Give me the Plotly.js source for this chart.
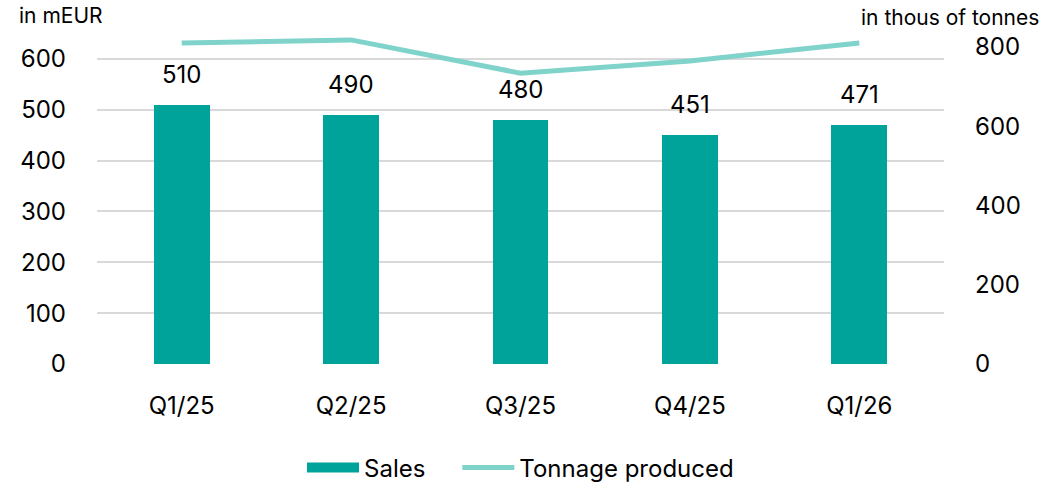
<!DOCTYPE html>
<html>
<head>
<meta charset="utf-8">
<script src="https://cdn.plot.ly/plotly-3.0.1.min.js"></script>
<style>
  html, body { margin: 0; padding: 0; background: #fff; }
  #chart { width: 1045px; height: 486px; }
</style>
</head>
<body>
<div id="chart"></div>
<script>
// quarters and values
const quarters = ["Q1/25", "Q2/25", "Q3/25", "Q4/25", "Q1/26"];
const sales = [510, 490, 480, 451, 471];          // mEUR
const tonnage = [810, 818, 734, 765, 810];         // thous of tonnes

const teal = "#00A39A";
const lightTeal = "#7FD3CB";
const fontFam = "Inter, 'Open Sans', sans-serif";

const barTrace = {
  type: "bar",
  name: "Sales",
  x: quarters,
  y: sales,
  marker: { color: teal },
  width: 0.33,
  hoverinfo: "x+y",
  showlegend: false,
  legendgroup: "sales",
};

// legend entry only (no data drawn): a thick line gives the wide rectangular swatch
// trailing non-breaking spaces widen the gap to the next legend item
const salesKey = {
  type: "scatter",
  mode: "lines",
  name: "Sales\u00a0\u00a0\u00a0\u00a0",
  x: [quarters[0]],
  y: [null],
  line: { color: teal, width: 22 },
  legendgroup: "sales",
  showlegend: true,
  hoverinfo: "skip",
};

const lineTrace = {
  type: "scatter",
  mode: "lines",
  name: "Tonnage produced",
  x: quarters,
  y: tonnage,
  yaxis: "y2",
  line: { color: lightTeal, width: 5 },
  cliponaxis: false,
};

// value labels above the bars
const labels = quarters.map((q, i) => ({
  x: q,
  y: sales[i],
  xref: "x",
  yref: "y",
  text: String(sales[i]),
  showarrow: false,
  yanchor: "bottom",
  yshift: 14,
  font: { size: 24, color: "#000" },
}));

const layout = {
  width: 1045,
  height: 486,
  paper_bgcolor: "#fff",
  plot_bgcolor: "#fff",
  font: { family: fontFam, size: 24, color: "#000" },
  margin: { l: 97, r: 101, t: 30, b: 122, autoexpand: false },
  bargap: 0,
  showlegend: true,
  legend: {
    orientation: "h",
    x: 0.5,
    xanchor: "center",
    xref: "paper",
    yref: "container",
    y: 0.037,
    yanchor: "middle",
    font: { size: 24 },
    itemwidth: 52,
    traceorder: "normal",
  },
  xaxis: {
    showgrid: false,
    zeroline: false,
    showline: false,
    ticks: "",
    ticklabelstandoff: 25,
  },
  yaxis: {
    range: [0, 657],
    tickvals: [0, 100, 200, 300, 400, 500, 600],
    showgrid: true,
    gridcolor: "#d9d9d9",
    gridwidth: 2,
    zeroline: false,
    showline: false,
    ticks: "",
    ticklabelstandoff: 30,
  },
  yaxis2: {
    overlaying: "y",
    side: "right",
    range: [0, 843],
    tickvals: [0, 200, 400, 600, 800],
    showgrid: false,
    zeroline: false,
    showline: false,
    ticks: "",
    ticklabelstandoff: 30,
  },
  annotations: labels.concat([
    {
      text: "in mEUR",
      xref: "paper", yref: "paper",
      x: 0, y: 1,
      xshift: -80, yshift: 0,
      xanchor: "left", yanchor: "bottom",
      showarrow: false,
      font: { size: 21 },
    },
    {
      text: "in thous of tonnes",
      xref: "paper", yref: "paper",
      x: 1, y: 1,
      xshift: 97, yshift: -2,
      xanchor: "right", yanchor: "bottom",
      showarrow: false,
      font: { size: 21 },
    },
  ]),
};

Plotly.newPlot("chart", [barTrace, salesKey, lineTrace], layout, { displayModeBar: false });
</script>
</body>
</html>
